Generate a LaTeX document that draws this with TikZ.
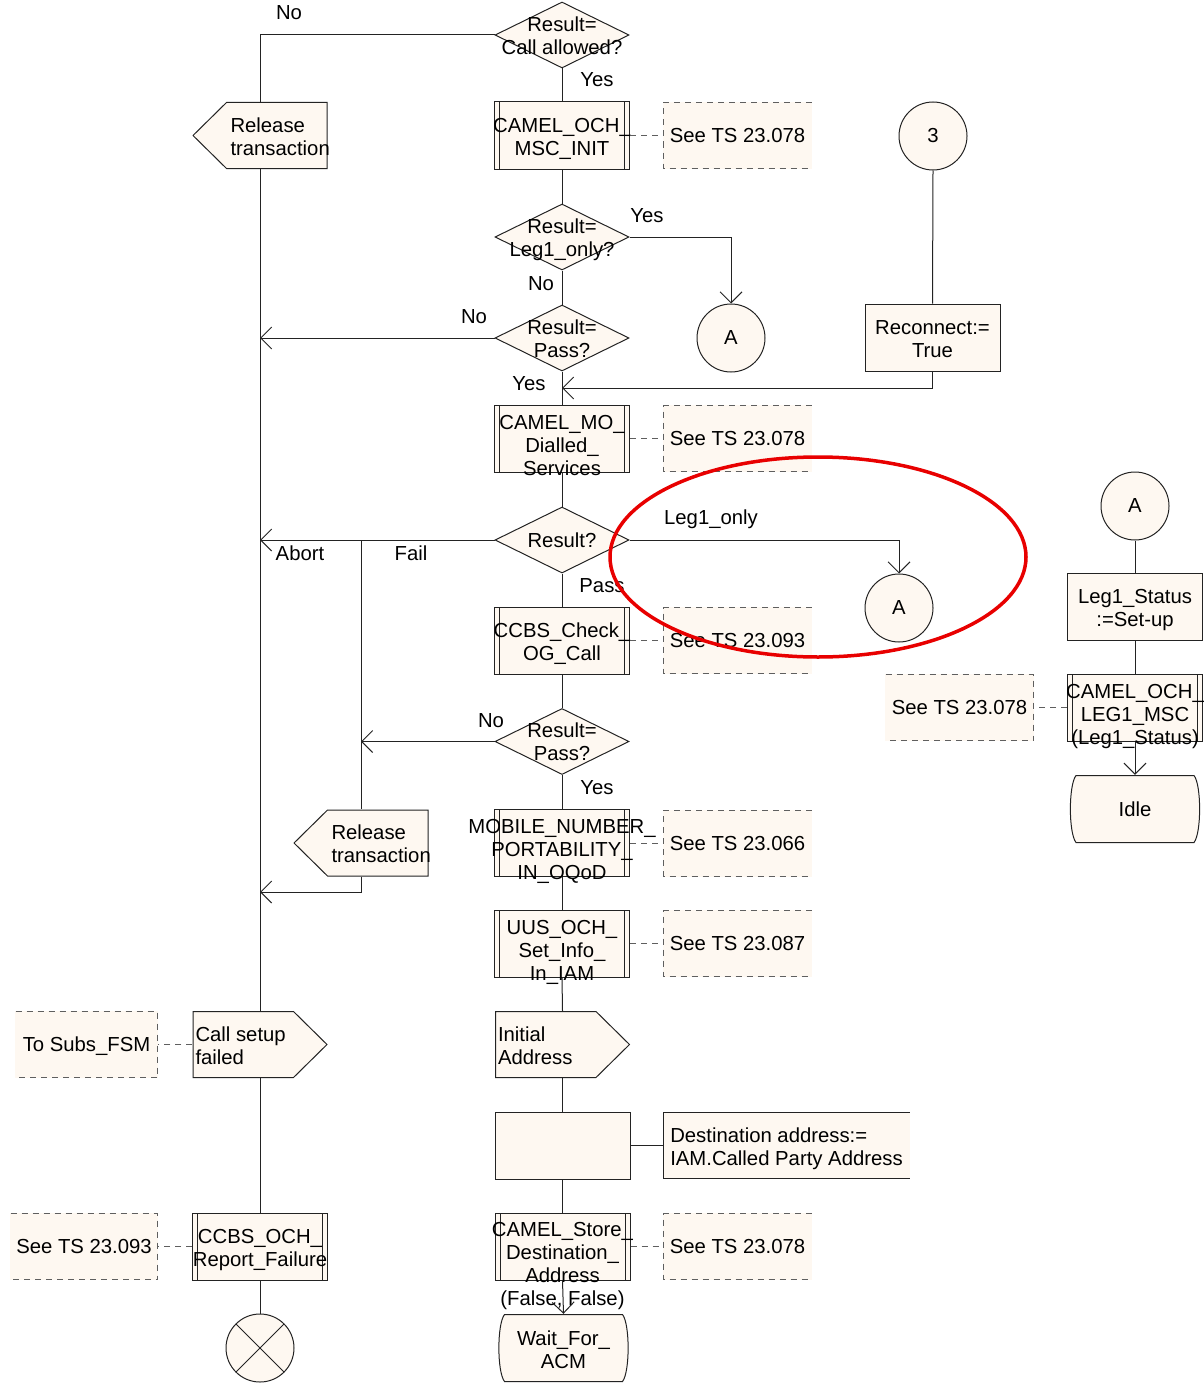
\documentclass[tikz,border=0pt]{standalone}
\usepackage{fontspec}
\setmainfont{Liberation Sans}
\usepackage{tikz}
\usetikzlibrary{shapes.geometric, arrows.meta, calc}
\definecolor{LineColor}{RGB}{35,35,35}
\definecolor{NoteColor}{RGB}{95,95,95}
\definecolor{SymbolFill}{RGB}{254,248,241}
\definecolor{MarkColor}{RGB}{232,0,0}
\newcommand{\sdlfont}{\fontsize{20.3}{23}\selectfont}
\tikzstyle{flow} = [LineColor, line width=1pt]
\tikzstyle{arrow} = [flow, -{Straight Barb[length=11pt,width=22pt]}]
\tikzstyle{noteline} = [NoteColor, line width=1pt, dash pattern=on 6pt off 5pt]
\tikzset{
  lbl/.style={font=\sdlfont, align=center, inner sep=0pt, execute at begin node=\strut, execute at end node=\strut},
  txt/.style={label={[lbl, yshift=-5pt]center:{#1}}},
  txtone/.style={label={[lbl, yshift=-2.5pt]center:{#1}}},
  txtat/.style 2 args={label={[lbl, yshift=#1]center:{#2}}},
  sigtxt/.style 2 args={label={[lbl, align=left, anchor=west, xshift=#1, yshift=-4.5pt]west:{#2}}},
  flowlbl/.style={font=\sdlfont, inner sep=0pt},
  decision/.style={diamond, draw=LineColor, fill=SymbolFill, line width=1pt, minimum width=134pt, minimum height=66pt, inner sep=0pt},
  taskbox/.style={rectangle, draw=LineColor, fill=SymbolFill, line width=1pt, minimum width=135pt, minimum height=67pt, inner sep=0pt},
  procbox/.style={taskbox, path picture={
      \draw[flow] ([xshift=5pt]path picture bounding box.north west) -- ([xshift=5pt]path picture bounding box.south west);
      \draw[flow] ([xshift=-5pt]path picture bounding box.north east) -- ([xshift=-5pt]path picture bounding box.south east);}},
  conn/.style={circle, draw=LineColor, fill=SymbolFill, line width=1pt, minimum size=68pt, inner sep=0pt, font=\sdlfont},
  stopsym/.style={conn, path picture={
      \draw[flow] (path picture bounding box.north west) -- (path picture bounding box.south east)
                  (path picture bounding box.north east) -- (path picture bounding box.south west);}},
  sigleft/.style={rectangle, minimum width=135pt, minimum height=67pt, inner sep=0pt, path picture={
      \draw[flow, fill=SymbolFill] ([shift={(-0.5pt,-0.5pt)}]path picture bounding box.north east)
        -- ([shift={(34pt,-0.5pt)}]path picture bounding box.north west)
        -- ([xshift=0.5pt]path picture bounding box.west)
        -- ([shift={(34pt,0.5pt)}]path picture bounding box.south west)
        -- ([shift={(-0.5pt,0.5pt)}]path picture bounding box.south east) -- cycle;}},
  sigright/.style={rectangle, minimum width=135pt, minimum height=67pt, inner sep=0pt, path picture={
      \draw[flow, fill=SymbolFill] ([shift={(0.5pt,-0.5pt)}]path picture bounding box.north west)
        -- ([shift={(-34pt,-0.5pt)}]path picture bounding box.north east)
        -- ([xshift=-0.5pt]path picture bounding box.east)
        -- ([shift={(-34pt,0.5pt)}]path picture bounding box.south east)
        -- ([shift={(0.5pt,0.5pt)}]path picture bounding box.south west) -- cycle;}},
  statebox/.style={rectangle, minimum width=134pt, minimum height=68pt, inner sep=0pt, path picture={
      \draw[flow, fill=SymbolFill] ([shift={(8pt,-0.5pt)}]path picture bounding box.north west)
        -- ([shift={(-8pt,-0.5pt)}]path picture bounding box.north east)
        .. controls ([shift={(-0.5pt,-10pt)}]path picture bounding box.north east) and ([shift={(-0.5pt,10pt)}]path picture bounding box.south east)
        .. ([shift={(-8pt,0.5pt)}]path picture bounding box.south east)
        -- ([shift={(8pt,0.5pt)}]path picture bounding box.south west)
        .. controls ([shift={(0.5pt,10pt)}]path picture bounding box.south west) and ([shift={(0.5pt,-10pt)}]path picture bounding box.north west)
        .. cycle;}},
  noteR/.style={rectangle, fill=SymbolFill, minimum width=#1, minimum height=67pt, inner sep=0pt, path picture={
      \draw[noteline] ([shift={(-0.5pt,-0.5pt)}]path picture bounding box.north east)
        -- ([shift={(0.5pt,-0.5pt)}]path picture bounding box.north west)
        -- ([shift={(0.5pt,0.5pt)}]path picture bounding box.south west)
        -- ([shift={(-0.5pt,0.5pt)}]path picture bounding box.south east);}},
  noteR/.default=149pt,
  noteL/.style={rectangle, fill=SymbolFill, minimum width=#1, minimum height=67pt, inner sep=0pt, path picture={
      \draw[noteline] ([shift={(0.5pt,-0.5pt)}]path picture bounding box.north west)
        -- ([shift={(-0.5pt,-0.5pt)}]path picture bounding box.north east)
        -- ([shift={(-0.5pt,0.5pt)}]path picture bounding box.south east)
        -- ([shift={(0.5pt,0.5pt)}]path picture bounding box.south west);}},
  noteL/.default=149pt,
  bracket/.style={rectangle, fill=SymbolFill, minimum width=247pt, minimum height=67pt, inner sep=0pt, path picture={
      \draw[flow] ([shift={(-0.5pt,-0.5pt)}]path picture bounding box.north east)
        -- ([shift={(0.5pt,-0.5pt)}]path picture bounding box.north west)
        -- ([shift={(0.5pt,0.5pt)}]path picture bounding box.south west)
        -- ([shift={(-0.5pt,0.5pt)}]path picture bounding box.south east);}}
}

\begin{document}
\begin{tikzpicture}[x=1pt, y=-1pt]
  \useasboundingbox (0,0) rectangle (1204,1386);

  % Main column
  \node[decision, txtat={-4pt}{Result=\\Call allowed?}] (callok) at (562,35) {};
  \node[procbox, txt={CAMEL\_OCH\_\\MSC\_INIT}] (ochinit) at (562,135.5) {};
  \node[decision, txtat={-4pt}{Result=\\Leg1\_only?}] (leg1q) at (562,237) {};
  \node[decision, txtat={-4pt}{Result=\\Pass?}] (pass1) at (562,338) {};
  \node[procbox, txtat={-10pt}{CAMEL\_MO\_\\Dialled\_\\Services}] (modial) at (562,438.5) {};
  \node[decision, txtone={Result?}] (resq) at (562,540) {};
  \node[procbox, txt={CCBS\_Check\_\\OG\_Call}] (ccbs) at (562,640.5) {};
  \node[decision, txtat={-4pt}{Result=\\Pass?}] (pass2) at (562,741.5) {};
  \node[procbox, txtat={-10pt}{MOBILE\_NUMBER\_\\PORTABILITY\_\\IN\_OQoD}] (mnp) at (562,843) {};
  \node[procbox, txtat={-10pt}{UUS\_OCH\_\\Set\_Info\_\\In\_IAM}] (uus) at (562,943.5) {};
  \node[sigright, sigtxt={3pt}{Initial\\Address}] (iam) at (562.5,1044.5) {};
  \node[taskbox] (dest) at (562.5,1145.5) {};
  \node[procbox, txtat={-21pt}{CAMEL\_Store\_\\Destination\_\\Address\\(False, False)}] (store) at (562.5,1246.5) {};
  \node[statebox, txt={Wait\_For\_\\ACM}] (wait) at (563.5,1348) {};

  % Comments of the main column
  \node[noteR, txtone={See TS 23.078}] (cinit) at (737.5,135.5) {};
  \node[noteR, txtone={See TS 23.078}] (cmodial) at (737.5,438.5) {};
  \node[noteR, txtone={See TS 23.093}] (cccbs) at (737.5,640.5) {};
  \node[noteR, txtone={See TS 23.066}] (cmnp) at (737.5,843) {};
  \node[noteR, txtone={See TS 23.087}] (cuus) at (737.5,943.5) {};
  \node[bracket, label={[lbl, align=left, yshift=-5pt]center:{Destination address:=\\IAM.Called Party Address}}] (cdest) at (786.5,1145.5) {};
  \node[noteR, txtone={See TS 23.078}] (cstore) at (737.5,1246.5) {};

  % Left column
  \node[sigleft, sigtxt={38pt}{Release\\transaction}] (rel1) at (260,135.5) {};
  \node[sigleft, sigtxt={38pt}{Release\\transaction}] (rel2) at (361,843) {};
  \node[sigright, sigtxt={3pt}{Call setup\\failed}] (csf) at (260,1044.5) {};
  \node[noteL=143pt, txtone={To Subs\_FSM}] (csubs) at (86.5,1044.5) {};
  \node[procbox, txt={CCBS\_OCH\_\\Report\_Failure}] (ccbsfail) at (260,1246.5) {};
  \node[noteL=148pt, txtone={See TS 23.093}] (cfail) at (84,1246.5) {};
  \node[stopsym] (stop) at (260,1348) {};
  \coordinate (join) at (260,892);

  % Connectors
  \node[conn] (a1) at (731,338) {A};
  \node[conn] (a2) at (899,608) {A};
  \node[conn] (con3) at (933,136) {3};
  \node[taskbox, txt={Reconnect:=\\True}] (reconn) at (932.5,337.5) {};

  % Right column
  \node[conn] (a3) at (1135,506) {A};
  \node[taskbox, txt={Leg1\_Status\\:=Set-up}] (l1st) at (1135,606.5) {};
  \node[procbox, txtat={-10pt}{CAMEL\_OCH\_\\LEG1\_MSC\\(Leg1\_Status)}] (leg1msc) at (1135,707.5) {};
  \node[noteL, txtone={See TS 23.078}] (cleg1) at (959.5,707.5) {};
  \node[statebox, txtone={Idle}] (idle) at (1135,809) {};

  % Flow lines
  \draw[flow] (callok.west) -| (rel1.north);
  \draw[flow] (callok.south) -- (ochinit.north);
  \draw[flow] (ochinit.south) -- (leg1q.north);
  \draw[arrow] (leg1q.east) -| (a1.north);
  \draw[flow] (leg1q.south) -- (pass1.north);
  \draw[arrow] (pass1.west) -- (pass1.west -| rel1.south);
  \draw[flow] (pass1.south) -- (modial.north);
  \draw[flow] (con3.south) -- (reconn.north);
  \draw[arrow] (reconn.south) |- ($(pass1.south)!0.5!(modial.north)$);
  \draw[flow] (modial.south) -- (resq.north);
  \draw[arrow] (resq.west) -- (resq.west -| rel1.south);
  \draw[flow] (resq.west -| rel2.north) -- (rel2.north);
  \draw[arrow] (resq.east) -| (a2.north);
  \draw[flow] (resq.south) -- (ccbs.north);
  \draw[flow] (ccbs.south) -- (pass2.north);
  \draw[arrow] (pass2.west) -- (pass2.west -| rel2.north);
  \draw[flow] (pass2.south) -- (mnp.north);
  \draw[arrow] (rel2.south) |- (join);
  \draw[flow] (mnp.south) -- (uus.north);
  \draw[flow] (uus.south) -- (iam.north);
  \draw[flow] (iam.south) -- (dest.north);
  \draw[flow] (dest.east) -- (cdest.west);
  \draw[flow] (dest.south) -- (store.north);
  \draw[arrow] (store.south) -- (wait.north);
  \draw[flow] (rel1.south) -- (csf.north);
  \draw[flow] (csf.south) -- (ccbsfail.north);
  \draw[flow] (ccbsfail.south) -- (stop.north);
  \draw[flow] (a3.south) -- (l1st.north);
  \draw[flow] (l1st.south) -- (leg1msc.north);
  \draw[arrow] (leg1msc.south) -- (idle.north);

  % Comment links
  \draw[noteline] (ochinit.east) -- (cinit.west);
  \draw[noteline] (modial.east) -- (cmodial.west);
  \draw[noteline] (ccbs.east) -- (cccbs.west);
  \draw[noteline] (mnp.east) -- (cmnp.west);
  \draw[noteline] (uus.east) -- (cuus.west);
  \draw[noteline] (store.east) -- (cstore.west);
  \draw[noteline] (csf.west) -- (csubs.east);
  \draw[noteline] (ccbsfail.west) -- (cfail.east);
  \draw[noteline] (leg1msc.west) -- (cleg1.east);

  % Branch labels
  \node[flowlbl] (nocall) at (289,13) {No};
  \node[flowlbl] (yescall) at (597,80) {Yes};
  \node[flowlbl] (yesleg) at (647,216) {Yes};
  \node[flowlbl] (noleg) at (541,284) {No};
  \node[flowlbl] (nopass) at (474,317) {No};
  \node[flowlbl] (yespass) at (529,384) {Yes};
  \node[flowlbl] (abort) at (300,553) {Abort};
  \node[flowlbl] (fail) at (411,553) {Fail};
  \node[flowlbl] (legonly) at (711,519) {Leg1\_only};
  \node[flowlbl] (passres) at (602,586) {Pass};
  \node[flowlbl] (nopass2) at (491,721) {No};
  \node[flowlbl] (yespass2) at (597,788) {Yes};

  % Highlight
  \draw[MarkColor, line width=3.5pt] (818,557) ellipse [x radius=208pt, y radius=100pt];
\end{tikzpicture}
\end{document}
